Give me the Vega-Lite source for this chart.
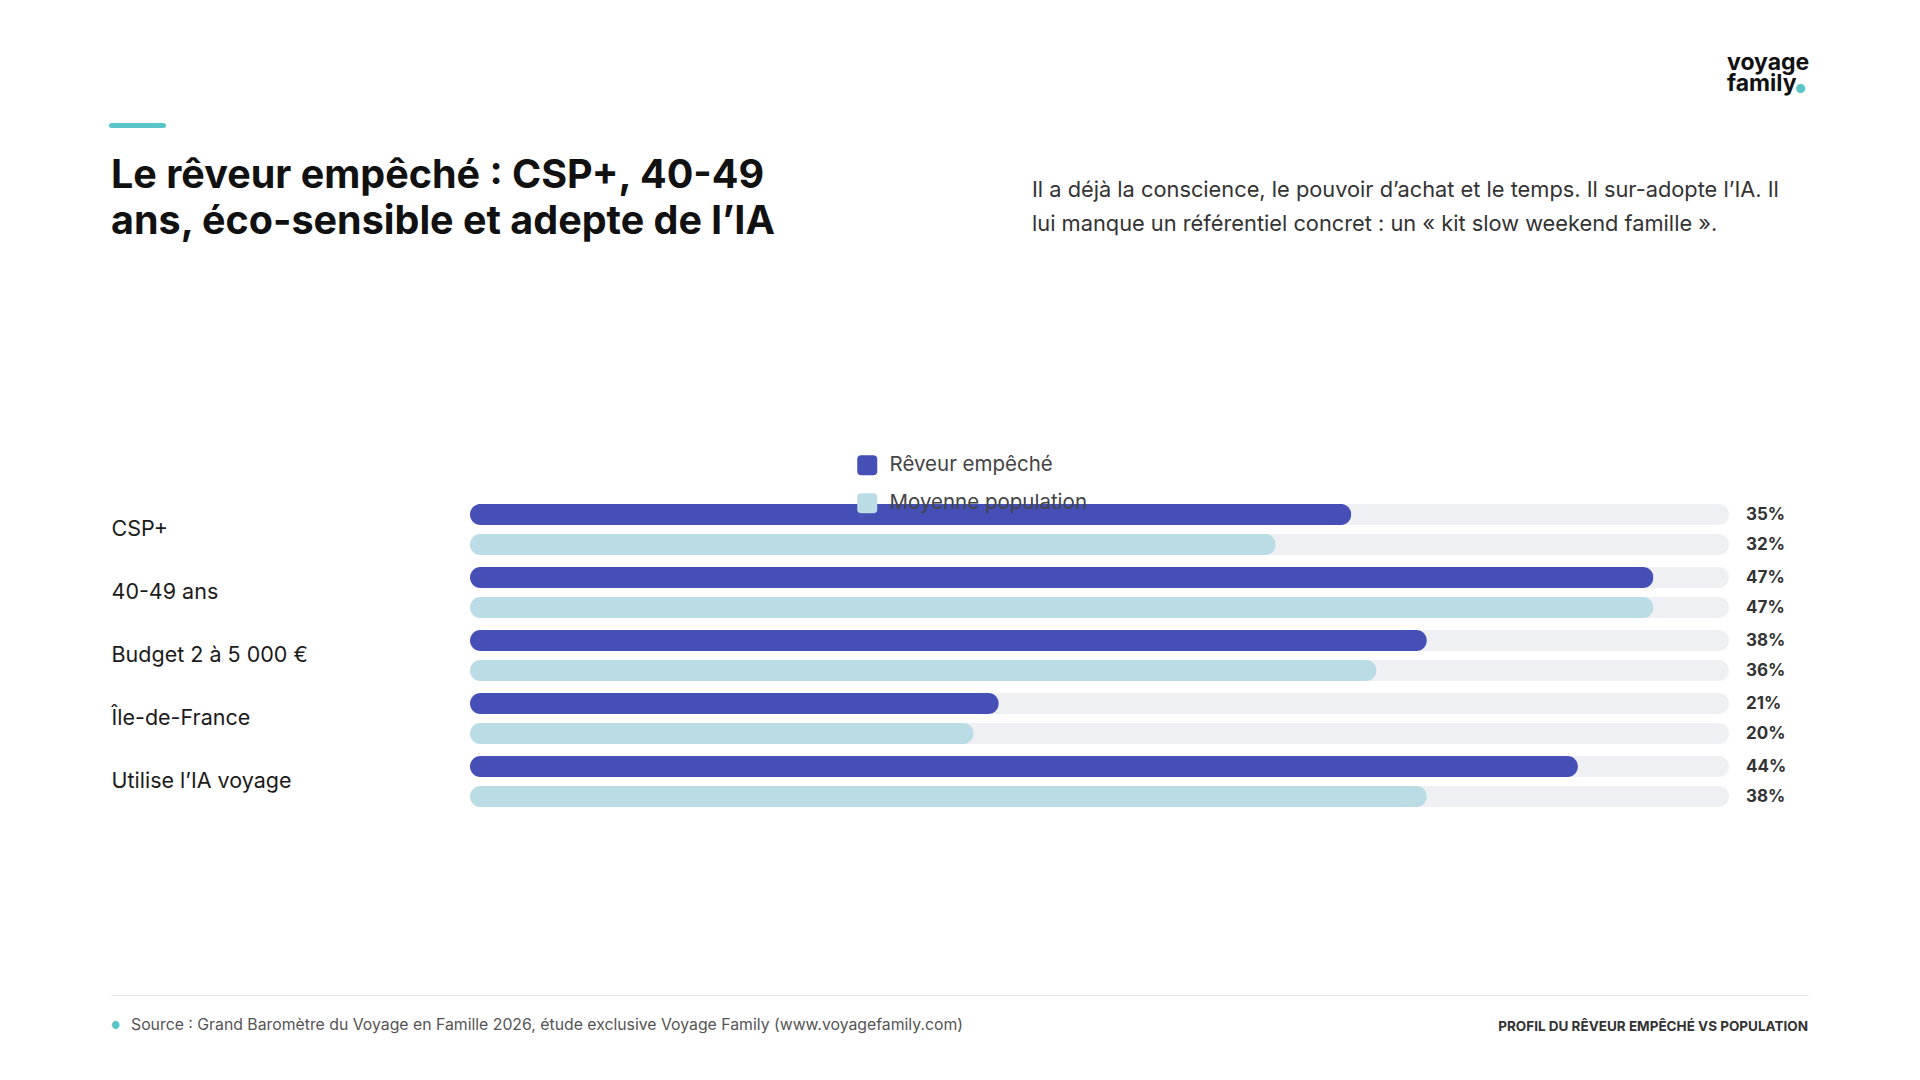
{
  "$schema": "https://vega.github.io/schema/vega-lite/v6.json",
  "background": "#ffffff",
  "padding": {"left": 111, "top": 52, "right": 0, "bottom": 0},
  "config": {
    "font": "Inter",
    "view": {"stroke": null},
    "title": {"font": "Inter"}
  },
  "spacing": 213,
  "align": "none",
  "resolve": {"scale": {"color": "independent"}, "legend": {"color": "independent"}},
  "vconcat": [
    {
      "bounds": "flush",
      "spacing": 0,
      "hconcat": [
        {
          "width": 52,
          "height": 24,
          "data": {"values": []},
          "mark": "point",
          "encoding": {
            "x": {
              "field": "x",
              "type": "quantitative",
              "scale": {"domain": [0, 1]},
              "axis": {
                "orient": "top",
                "domain": true,
                "domainColor": "#5bc4c9",
                "domainWidth": 5,
                "domainCap": "round",
                "ticks": false,
                "labels": false,
                "grid": false,
                "title": null
              }
            }
          },
          "title": {
            "text": ["Le rêveur empêché : CSP+, 40-49", "ans, éco-sensible et adepte de l’IA"],
            "orient": "bottom",
            "anchor": "start",
            "frame": "group",
            "fontSize": 39.5,
            "fontWeight": "bold",
            "color": "#111111",
            "lineHeight": 46,
            "offset": 8
          }
        },
        {
          "width": 869,
          "height": 24,
          "data": {"values": []},
          "mark": "point"
        },
        {
          "width": 695,
          "height": 24,
          "data": {"values": []},
          "mark": "point",
          "title": {
            "text": ["Il a déjà la conscience, le pouvoir d’achat et le temps. Il sur-adopte l’IA. Il", "lui manque un référentiel concret : un « kit slow weekend famille »."],
            "orient": "bottom",
            "anchor": "start",
            "frame": "group",
            "fontSize": 21.8,
            "fontWeight": "normal",
            "color": "#333333",
            "lineHeight": 34,
            "offset": 31
          }
        },
        {
          "width": 68,
          "height": 24,
          "data": {"values": []},
          "mark": "point",
          "title": {
            "text": ["voyage", "family"],
            "orient": "top",
            "anchor": "start",
            "frame": "group",
            "fontSize": 23,
            "fontWeight": "bold",
            "lineHeight": 21,
            "color": "#111111",
            "offset": 29
          }
        },
        {
          "width": 10,
          "height": 24,
          "data": {"values": []},
          "mark": "point",
          "title": {
            "text": "●",
            "orient": "top",
            "anchor": "start",
            "frame": "group",
            "fontSize": 12,
            "color": "#5bc4c9",
            "offset": 29
          }
        }
      ]
    },
    {
      "spacing": 182,
      "align": "none",
      "resolve": {"scale": {"color": "independent"}, "legend": {"color": "independent"}},
      "vconcat": [
        {
          "width": 1618,
          "height": 315,
          "data": {
            "values": [
              {"cat": "CSP+", "serie": "Rêveur empêché", "value": 0.35},
              {"cat": "CSP+", "serie": "Moyenne population", "value": 0.32},
              {"cat": "40-49 ans", "serie": "Rêveur empêché", "value": 0.47},
              {"cat": "40-49 ans", "serie": "Moyenne population", "value": 0.47},
              {"cat": "Budget 2 à 5 000 €", "serie": "Rêveur empêché", "value": 0.38},
              {"cat": "Budget 2 à 5 000 €", "serie": "Moyenne population", "value": 0.36},
              {"cat": "Île-de-France", "serie": "Rêveur empêché", "value": 0.21},
              {"cat": "Île-de-France", "serie": "Moyenne population", "value": 0.20},
              {"cat": "Utilise l’IA voyage", "serie": "Rêveur empêché", "value": 0.44},
              {"cat": "Utilise l’IA voyage", "serie": "Moyenne population", "value": 0.38}
            ]
          },
          "encoding": {
            "y": {
              "field": "cat",
              "type": "nominal",
              "sort": null,
              "scale": {"paddingInner": 0, "paddingOuter": 0},
              "axis": {
                "title": null,
                "domain": false,
                "ticks": false,
                "labelAlign": "left",
                "labelPadding": 0,
                "labelFontSize": 21.5,
                "labelColor": "#1b1b1b",
                "labelFont": "Inter",
                "labelLimit": 400
              }
            },
            "yOffset": {
              "field": "serie",
              "type": "nominal",
              "sort": ["Rêveur empêché", "Moyenne population"],
              "scale": {"paddingInner": 0.3, "paddingOuter": 0.2}
            }
          },
          "layer": [
            {
              "mark": {"type": "bar", "cornerRadius": 10.5, "color": "#eff0f4"},
              "encoding": {
                "x": {"datum": 0.5, "type": "quantitative", "scale": {"domain": [0, 0.5], "range": [359, 1618]}, "axis": null}
              }
            },
            {
              "mark": {"type": "bar", "cornerRadius": 10.5},
              "encoding": {
                "x": {"field": "value", "type": "quantitative", "scale": {"domain": [0, 0.5], "range": [359, 1618]}, "axis": null},
                "color": {
                  "field": "serie",
                  "type": "nominal",
                  "scale": {"domain": ["Rêveur empêché", "Moyenne population"], "range": ["#454fb5", "#badce5"]},
                  "legend": {
                    "orient": "none",
                    "legendX": 746,
                    "legendY": -43,
                    "direction": "vertical",
                    "title": null,
                    "labelFontSize": 20.5,
                    "labelColor": "#444444",
                    "labelFont": "Inter",
                    "labelLimit": 400,
                    "symbolType": "M -0.6 -1 L 0.6 -1 Q 1 -1 1 -0.6 L 1 0.6 Q 1 1 0.6 1 L -0.6 1 Q -1 1 -1 0.6 L -1 -0.6 Q -1 -1 -0.6 -1 Z",
                    "symbolSize": 400,
                    "symbolStrokeWidth": 0,
                    "rowPadding": 17,
                    "labelOffset": 12
                  }
                }
              }
            },
            {
              "mark": {"type": "text", "align": "left", "baseline": "middle", "dx": 17, "fontSize": 17, "fontWeight": "bold", "color": "#333333", "font": "Inter"},
              "encoding": {
                "x": {"datum": 0.5, "type": "quantitative"},
                "text": {"field": "value", "type": "quantitative", "format": ".0%"}
              }
            }
          ]
        },
        {
          "bounds": "flush",
          "spacing": 0,
          "hconcat": [
            {
              "width": 20,
              "height": 1,
              "data": {"values": []},
              "mark": "point",
              "encoding": {
                "x": {
                  "field": "x",
                  "type": "quantitative",
                  "scale": {"domain": [0, 1]},
                  "axis": {"orient": "top", "domain": true, "domainColor": "#e6e6e6", "domainWidth": 1, "ticks": false, "labels": false, "grid": false, "title": null}
                }
              },
              "title": {
                "text": "●",
                "orient": "bottom",
                "anchor": "start",
                "frame": "group",
                "fontSize": 10,
                "color": "#5bc4c9",
                "offset": 25
              }
            },
            {
              "width": 1367,
              "height": 1,
              "data": {"values": []},
              "mark": "point",
              "encoding": {
                "x": {
                  "field": "x",
                  "type": "quantitative",
                  "scale": {"domain": [0, 1]},
                  "axis": {"orient": "top", "domain": true, "domainColor": "#e6e6e6", "domainWidth": 1, "ticks": false, "labels": false, "grid": false, "title": null}
                }
              },
              "title": {
                "text": "Source : Grand Baromètre du Voyage en Famille 2026, étude exclusive Voyage Family (www.voyagefamily.com)",
                "orient": "bottom",
                "anchor": "start",
                "frame": "group",
                "fontSize": 15.8,
                "fontWeight": "normal",
                "color": "#555555",
                "offset": 22
              }
            },
            {
              "width": 310,
              "height": 1,
              "data": {"values": []},
              "mark": "point",
              "encoding": {
                "x": {
                  "field": "x",
                  "type": "quantitative",
                  "scale": {"domain": [0, 1]},
                  "axis": {"orient": "top", "domain": true, "domainColor": "#e6e6e6", "domainWidth": 1, "ticks": false, "labels": false, "grid": false, "title": null}
                }
              },
              "title": {
                "text": "PROFIL DU RÊVEUR EMPÊCHÉ VS POPULATION",
                "orient": "bottom",
                "anchor": "end",
                "frame": "group",
                "fontSize": 13.5,
                "fontWeight": "bold",
                "color": "#333333",
                "offset": 24
              }
            }
          ]
        }
      ]
    }
  ]
}
